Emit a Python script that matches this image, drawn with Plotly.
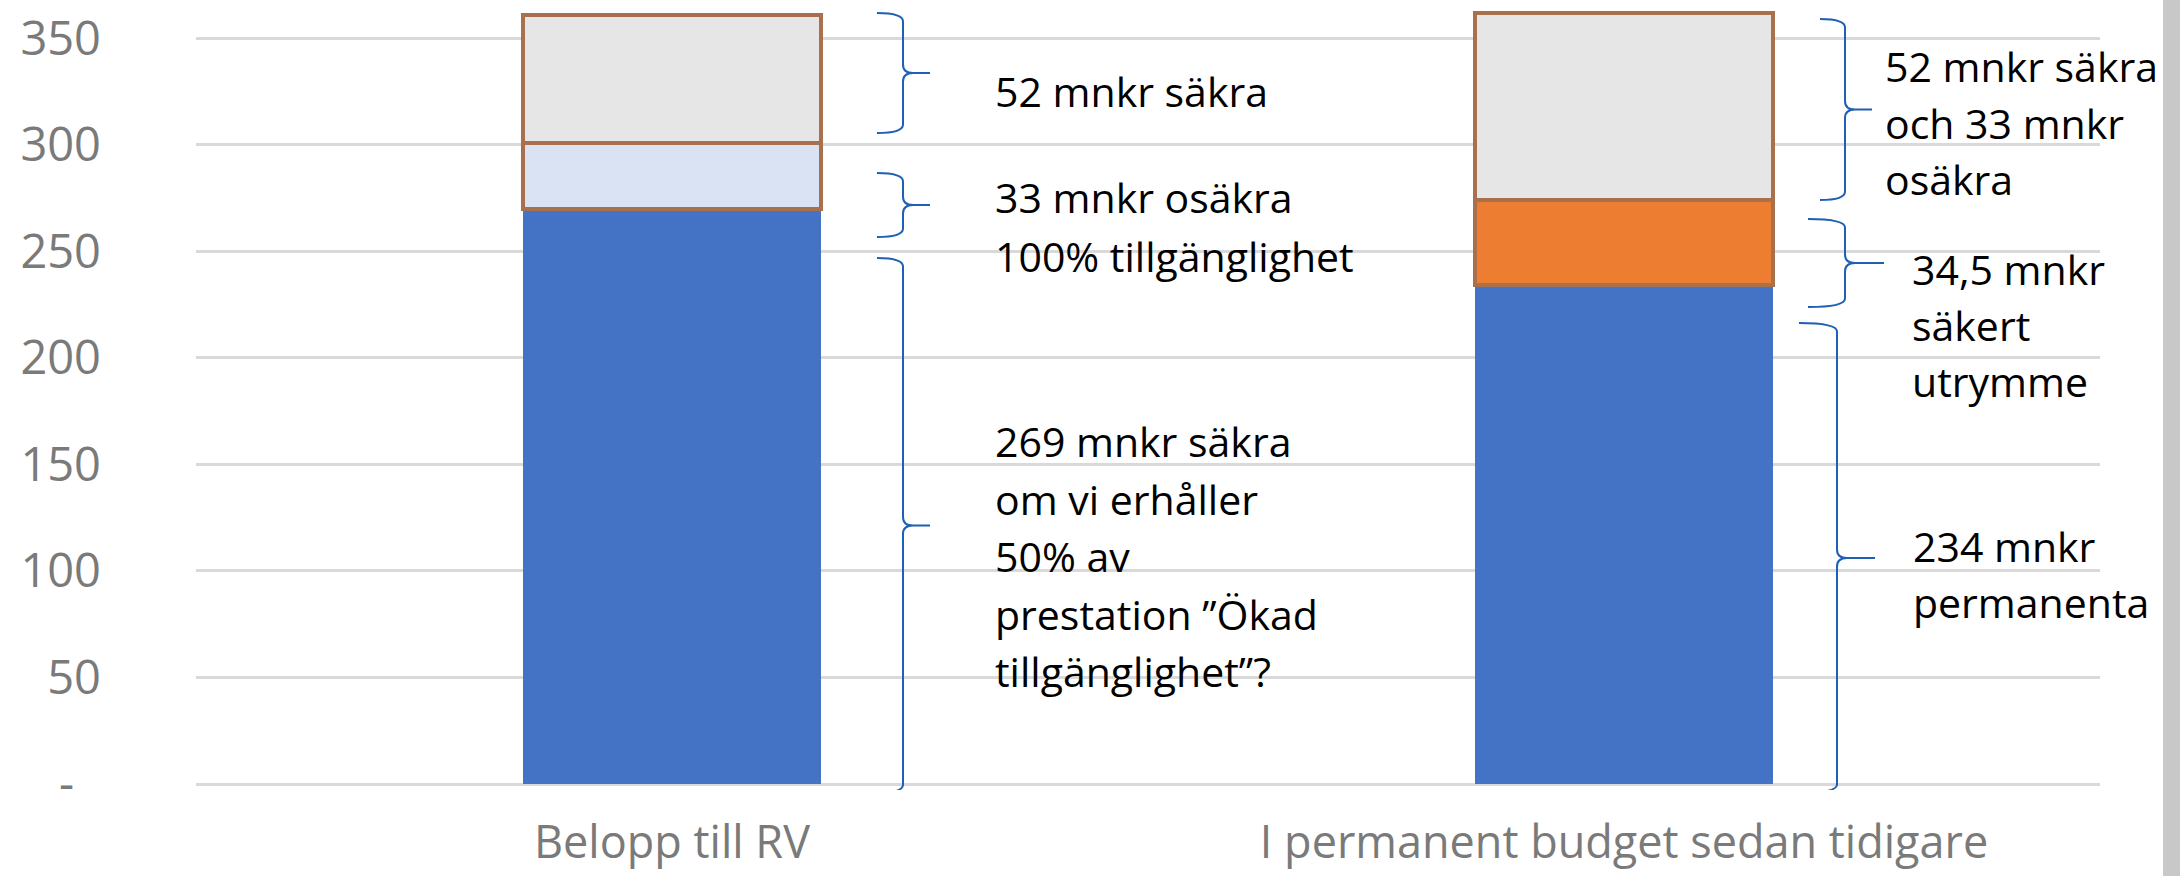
import plotly.graph_objects as go

# ---------------- data ----------------
CATEGORIES = ["Belopp till RV", "I permanent budget sedan tidigare"]
BASE_VALUES = [270, 234]      # blue, bottom segment
MIDDLE_VALUES = [31, 40]      # light blue / orange
TOP_VALUES = [60, 88]         # grey, top segment
MIDDLE_COLORS = ["#DAE3F3", "#ED7D31"]

Y_TICKS = [0, 50, 100, 150, 200, 250, 300, 350]
Y_TICK_TEXT = ["-\u2007", "50", "100", "150", "200", "250", "300", "350"]

LEFT_TOP_TEXT = ["52 mnkr säkra"]
LEFT_MID_TEXT = ["33 mnkr osäkra", "100% tillgänglighet"]
LEFT_BASE_TEXT = ["269 mnkr säkra", "om vi erhåller", "50% av",
                  "prestation ”Ökad", "tillgänglighet”?"]
RIGHT_TOP_TEXT = ["52 mnkr säkra", "och 33 mnkr", "osäkra"]
RIGHT_MID_TEXT = ["34,5 mnkr", "säkert", "utrymme"]
RIGHT_BASE_TEXT = ["234 mnkr", "permanenta"]

# ---------------- layout geometry ----------------
W, H = 2180, 876
ML, MR, MT, MB = 196, 80, 0, 86
PW = W - ML - MR
PH = H - MT - MB
K = 2.131                      # px per unit
Y_MIN = -(PH - 784) / K
Y_MAX = Y_MIN + PH / K


def ydata(py):
    return Y_MAX - (py - MT) / K


def xpaper(px):
    return (px - ML) / PW


fig = go.Figure()
BORDER = "#A8704C"
fig.add_trace(go.Bar(x=CATEGORIES, y=BASE_VALUES, marker=dict(color="#4472C4", line=dict(width=0))))
fig.add_trace(go.Bar(x=CATEGORIES, y=MIDDLE_VALUES, marker=dict(color=MIDDLE_COLORS, line=dict(color=BORDER, width=4))))
fig.add_trace(go.Bar(x=CATEGORIES, y=TOP_VALUES, marker=dict(color="#E7E6E6", line=dict(color=BORDER, width=4))))

# ---------------- annotations (text blocks) ----------------
annotations = []
FONT = dict(family="Open Sans", size=41, color="#000000")


def add_block(lines, px, first_baseline, spacing=57):
    for i, t in enumerate(lines):
        base = first_baseline + i * spacing
        annotations.append(dict(
            text=t, x=xpaper(px), xref="paper", xanchor="left",
            y=ydata(base - 16), yref="y", yanchor="middle",
            showarrow=False, font=FONT, align="left"))


add_block(LEFT_TOP_TEXT, 993, 107)
add_block(LEFT_MID_TEXT, 993, 213, 59)
add_block(LEFT_BASE_TEXT, 993, 457, 57.5)
add_block(RIGHT_TOP_TEXT, 1883, 82, 56.5)
add_block(RIGHT_MID_TEXT, 1910, 285, 56)
add_block(RIGHT_BASE_TEXT, 1911, 562, 56)

# ---------------- braces ----------------
shapes = []
BRACE_COLOR = "#1F5FB4"


def brace(x_end, x_vert, x_tip, py_top, py_bot):
    xe, xv, xt = xpaper(x_end), xpaper(x_vert), xpaper(x_tip)
    d = 10 / PW
    yt, yb = ydata(py_top), ydata(py_bot)
    ym = (yt + yb) / 2
    r = 4.0
    path = (f"M {xe},{yt} Q {xv},{yt} {xv},{yt - r} "
            f"L {xv},{ym + r} Q {xv},{ym} {xv + d},{ym} L {xt},{ym} "
            f"M {xv + d},{ym} Q {xv},{ym} {xv},{ym - r} "
            f"L {xv},{yb + r} Q {xv},{yb} {xe},{yb}")
    shapes.append(dict(type="path", path=path, xref="paper", yref="y",
                       line=dict(color=BRACE_COLOR, width=2), fillcolor="rgba(0,0,0,0)"))


brace(877, 903, 930, 13, 133)
brace(877, 903, 930, 173, 237)
brace(877, 903, 930, 258, 793)
brace(1820, 1845, 1872, 19, 200)
brace(1808, 1845, 1884, 219, 307)
brace(1799, 1837, 1875, 323, 793)

# right-hand grey frame edge
shapes.append(dict(type="rect", xref="paper", yref="paper",
                   x0=xpaper(2163), x1=xpaper(2185), y0=-0.2, y1=1.2,
                   fillcolor="#C8C8C8", line=dict(width=0), layer="above"))

fig.update_layout(
    width=W, height=H,
    margin=dict(l=ML, r=MR, t=MT, b=MB, pad=0),
    barmode="stack", bargap=0.687,
    showlegend=False,
    plot_bgcolor="#FFFFFF", paper_bgcolor="#FFFFFF",
    annotations=annotations, shapes=shapes,
    font=dict(family="Open Sans"),
)
fig.update_yaxes(
    range=[Y_MIN, Y_MAX], tickvals=Y_TICKS, ticktext=Y_TICK_TEXT,
    showgrid=True, gridcolor="#D9D9D9", gridwidth=3,
    zeroline=True, zerolinecolor="#D9D9D9", zerolinewidth=3,
    showline=False, ticks="", ticklabelstandoff=94,
    tickfont=dict(family="Open Sans", size=47, color="#7A7A7A"),
    automargin=False,
)
fig.update_xaxes(
    showgrid=False, showline=False, ticks="", ticklabelstandoff=22,
    tickfont=dict(family="Open Sans", size=45, color="#7A7A7A"),
    automargin=False,
)

fig.write_html("out.html", config={"displayModeBar": False},
               post_script="document.body.style.margin='0px';")
